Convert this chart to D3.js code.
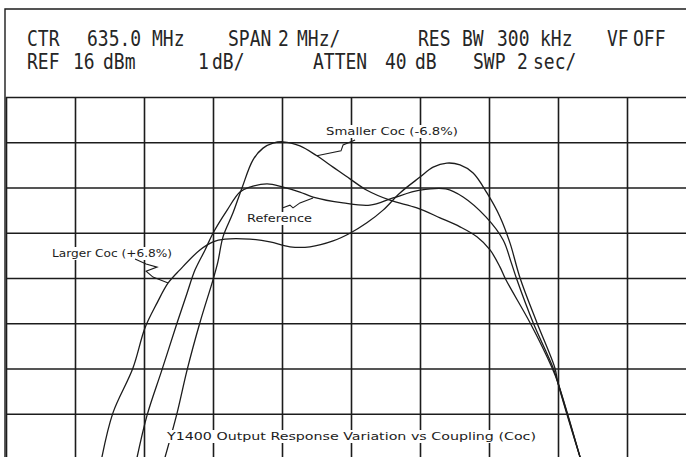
<!DOCTYPE html>
<html>
<head>
<meta charset="utf-8">
<script src="https://cdn.jsdelivr.net/npm/d3@7"></script>
<style>
body { margin: 0; background: #fff; }
svg { display: block; }
</style>
</head>
<body>
<div id="chart"></div>
<script>
// Spectrum analyzer screen: 2 MHz/div around 635 MHz, 1 dB/div below 16 dBm
const freqTicks = d3.range(625, 646, 2);
const levelTicks = d3.range(8, 17, 1);

const headerRow1 = ["CTR", "635.0 MHz", "SPAN 2 MHz/", "RES BW 300 kHz", "VF OFF"];
const headerRow2 = ["REF", "16 dBm", "1 dB/", "ATTEN 40 dB", "SWP 2 sec/"];

// traces, [MHz, dBm]
const largerCoc = [
    [627.78, 8.04], [628.10, 9.02], [628.68, 10.01], [629.03, 10.90], [629.38, 11.45],
    [629.70, 11.89], [630.04, 12.18], [630.62, 12.62], [631.00, 12.80], [631.35, 12.86],
    [632.07, 12.86], [632.65, 12.80], [633.23, 12.69], [633.81, 12.69], [634.48, 12.82],
    [634.97, 12.99], [635.46, 13.22], [635.93, 13.50], [636.42, 13.88], [637.00, 14.23],
    [637.38, 14.45], [637.78, 14.54], [638.16, 14.50], [638.54, 14.32], [638.94, 13.88],
    [639.32, 13.35], [639.61, 12.77], [639.90, 12.00], [640.39, 11.01], [640.91, 10.01],
    [641.00, 9.68], [641.64, 8.04]
];
const reference = [
    [628.80, 8.04], [629.09, 8.97], [629.52, 9.97], [629.96, 11.01], [630.25, 11.67],
    [630.48, 12.18], [630.77, 12.62], [631.00, 12.99], [631.41, 13.50], [631.78, 13.90],
    [632.07, 14.01], [632.57, 14.08], [633.03, 14.01], [633.52, 13.90], [633.90, 13.79],
    [634.77, 13.66], [635.55, 13.61], [636.22, 13.77], [637.00, 13.94], [637.75, 13.97],
    [638.25, 13.79], [638.91, 13.35], [639.41, 12.84], [639.64, 12.35], [639.81, 11.96],
    [640.28, 11.01], [640.86, 10.01], [641.00, 9.68], [641.64, 8.04]
];
const smallerCoc = [
    [629.61, 8.04], [629.96, 9.02], [630.25, 9.97], [630.62, 11.01], [631.00, 11.96],
    [631.14, 12.35], [631.29, 12.91], [631.58, 13.44], [631.84, 13.99], [632.16, 14.61],
    [632.45, 14.87], [632.74, 14.98], [633.03, 15.01], [633.52, 14.92], [634.01, 14.70],
    [634.48, 14.45], [634.97, 14.19], [635.46, 13.94], [636.13, 13.72], [636.91, 13.55],
    [637.58, 13.33], [638.16, 13.13], [638.65, 12.91], [639.03, 12.62], [639.32, 12.24],
    [639.49, 11.96], [640.19, 11.01], [640.83, 10.01], [641.00, 9.68], [641.64, 8.04]
];

// hand drawn leaders from the labels to the traces
const smallerLeader = [[635.12, 15.05], [634.77, 14.94], [634.71, 14.81], [634.01, 14.70]];
const referenceLeader = [[633.03, 13.55], [633.23, 13.61], [633.32, 13.55], [633.52, 13.66], [633.90, 13.77]];
const largerLeader = [[628.74, 12.42], [629.06, 12.31], [629.38, 12.24], [629.06, 12.15], [629.26, 12.02], [629.70, 11.89]];

const width = 686, height = 457;
const plot = {left: 6, top: 97, right: 696, bottom: 459};
const ink = "#1c1c1c";

const svg = d3.select("#chart").append("svg")
    .attr("width", width)
    .attr("height", height);

const x = d3.scaleLinear().domain([625, 645]).range([plot.left, plot.right]);
const y = d3.scaleLinear().domain([8, 16]).range([plot.bottom, plot.top]);

// header box
svg.append("path")
    .attr("d", "M5," + plot.bottom + "V9H" + (width + 5))
    .attr("fill", "none")
    .attr("stroke", ink)
    .attr("stroke-width", 1.4);

// graticule
svg.append("g")
    .attr("transform", "translate(0," + plot.bottom + ")")
    .call(d3.axisBottom(x).tickValues(freqTicks).tickSize(-(plot.bottom - plot.top)).tickFormat(""))
    .call(g => g.select(".domain").remove())
    .call(g => g.selectAll("line").attr("stroke", ink).attr("stroke-width", 1.6));

svg.append("g")
    .attr("transform", "translate(" + plot.left + ",0)")
    .call(d3.axisLeft(y).tickValues(levelTicks).tickSize(-(plot.right - plot.left)).tickFormat(""))
    .call(g => g.select(".domain").remove())
    .call(g => g.selectAll("line").attr("stroke", ink).attr("stroke-width", 1.6));

// header text: the screen font places each word on its own, so one x per word
const row1WordX = [[27], [87, 152], [228, 278, 297], [418, 462, 497, 540], [607, 633]];
const row2WordX = [[27], [73, 103], [198, 212], [313, 385, 415], [473, 517, 533]];

function headerRow(labels, wordX, baseline)
{
    const words = [];
    labels.forEach((lab, i) => lab.split(" ").forEach((w, j) => words.push({w: w, x: wordX[i][j]})));
    svg.append("g").selectAll("text")
        .data(words)
        .join("text")
        .attr("transform", d => "translate(" + d.x + "," + baseline + ") scale(0.9,1.02)")
        .attr("font-family", "DejaVu Sans Mono")
        .attr("font-size", 20)
        .attr("fill", "#262626")
        .text(d => d.w);
}
headerRow(headerRow1, row1WordX, 46);
headerRow(headerRow2, row2WordX, 69);

// traces
const line = d3.line()
    .x(d => x(d[0]))
    .y(d => y(d[1]))
    .curve(d3.curveCatmullRom.alpha(0.5));

svg.append("g").selectAll("path")
    .data([largerCoc, reference, smallerCoc])
    .join("path")
    .attr("d", line)
    .attr("fill", "none")
    .attr("stroke", ink)
    .attr("stroke-width", 1.3);

// labels with a white patch behind, as on the plot
const labels = [
    {text: "Smaller Coc (-6.8%)", x: 326, y: 135, len: 132},
    {text: "Reference", x: 247, y: 222, len: 65},
    {text: "Larger Coc (+6.8%)", x: 52, y: 257, len: 120},
    {text: "Y1400 Output Response Variation vs Coupling (Coc)", x: 167, y: 440, len: 369}
];

const labelG = svg.append("g");
labels.forEach(l => {
    const patch = labelG.append("rect").attr("fill", "#fff");
    const t = labelG.append("text")
        .attr("x", l.x)
        .attr("y", l.y)
        .attr("textLength", l.len)
        .attr("lengthAdjust", "spacingAndGlyphs")
        .attr("font-family", "DejaVu Sans")
        .attr("font-size", 11)
        .attr("fill", ink)
        .text(l.text);
    const b = t.node().getBBox();
    patch.attr("x", b.x - 2).attr("y", b.y).attr("width", b.width + 4).attr("height", b.height);
});

const leader = d3.line()
    .x(d => x(d[0]))
    .y(d => y(d[1]));

svg.append("g").selectAll("path")
    .data([smallerLeader, referenceLeader, largerLeader])
    .join("path")
    .attr("d", leader)
    .attr("fill", "none")
    .attr("stroke", ink)
    .attr("stroke-width", 1.1);
</script>
</body>
</html>
